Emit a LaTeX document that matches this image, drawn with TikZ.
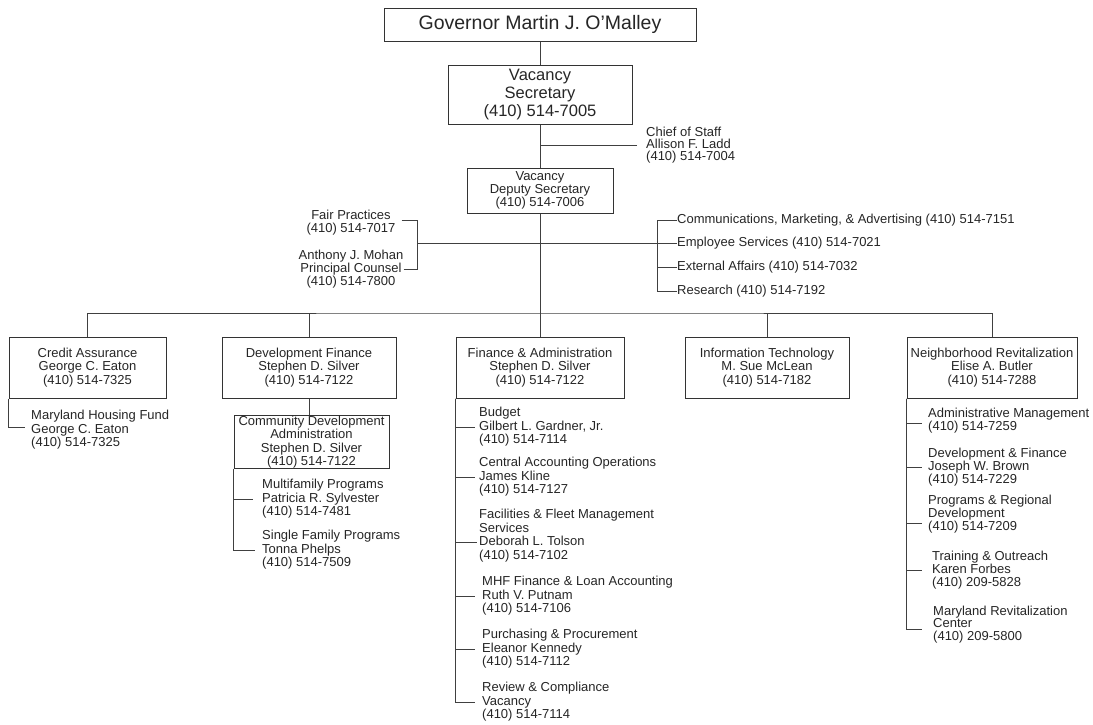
\documentclass[tikz,border=0pt]{standalone}
\usepackage{fontspec}
\setmainfont{Liberation Sans}
\begin{document}
\begin{tikzpicture}[x=1pt,y=-1pt,
  ln/.style={draw=black!75, line width=0.9pt},
  box/.style={draw=black!80, line width=1pt, inner sep=0pt, align=center, text=black!85, font=\fontsize{13}{13.5}\selectfont},
  lst/.style={inner sep=0pt, align=left, anchor=west, text=black!85, font=\fontsize{13}{13.5}\selectfont},
  ctr/.style={inner sep=0pt, align=center, text=black!85, font=\fontsize{13}{13}\selectfont},
]
\fill[white] (0,0) rectangle (1093,724);
\useasboundingbox (0,0) rectangle (1093,724);

% top chain
\node[box, minimum width=312, minimum height=33, font=\fontsize{19.5}{22}\selectfont] (gov) at (540,24.5) {Governor Martin J. O'Malley};
\node[box, minimum width=184, minimum height=59, font=\fontsize{16.5}{17.8}\selectfont] (sec) at (540,94.5) {Vacancy\\Secretary\\(410) 514-7005};
\node[box, minimum width=146, minimum height=45, font=\fontsize{13}{13}\selectfont] (dep) at (540,190.5) {Vacancy\\Deputy Secretary\\(410) 514-7006};
\node[lst, font=\fontsize{13}{12}\selectfont] (cos) at (646,145) {Chief of Staff\\Allison F. Ladd\\(410) 514-7004};

\draw[ln] (gov.south) -- (sec.north);
\draw[ln] (sec.south) -- (dep.north);
\draw[ln] ([xshift=-9pt]cos.west) -- (cos.west -| sec.south);

% staff offices
\node[ctr] (fp) at (351,222.5) {Fair Practices\\(410) 514-7017};
\node[ctr] (pc) at (351,269) {Anthony J. Mohan\\Principal Counsel\\(410) 514-7800};
\node[lst] (comm) at (677,220) {Communications, Marketing, \& Advertising (410) 514-7151};
\node[lst] (emp) at (677,243) {Employee Services (410) 514-7021};
\node[lst] (ext) at (677,267) {External Affairs (410) 514-7032};
\node[lst] (res) at (677,291) {Research (410) 514-7192};

\coordinate (lb) at (417,243);
\coordinate (rb) at (657,243);
\draw[ln] ([xshift=6pt,yshift=2pt]fp.east) -| (lb);
\draw[ln] (pc.east) -| (lb);
\draw[ln] (lb) -- (rb);
\draw[ln] (comm.west) -| (rb);
\draw[ln] (res.west) -| (rb);
\draw[ln] (emp.west) -- (rb);
\draw[ln] (ext.west) -- (ext.west -| rb);

% level of divisions
\coordinate (lvl) at (540,313);
\draw[ln] (dep.south) -- (lvl);

\node[box, minimum width=157, minimum height=61] (ca) at (87.5,367.5) {Credit Assurance\\George C. Eaton\\(410) 514-7325};
\node[box, minimum width=174, minimum height=61] (df) at (309,367.5) {Development Finance\\Stephen D. Silver\\(410) 514-7122};
\node[box, minimum width=168, minimum height=61] (fa) at (540,367.5) {Finance \& Administration\\Stephen D. Silver\\(410) 514-7122};
\node[box, minimum width=164, minimum height=61] (it) at (767,367.5) {Information Technology\\M. Sue McLean\\(410) 514-7182};
\node[box, minimum width=170, minimum height=61] (nr) at (992,367.5) {Neighborhood Revitalization\\Elise A. Butler\\(410) 514-7288};

\draw[ln] (ca.north) |- (lvl) -| (nr.north);
\draw[ln] (df.north) -- (df.north |- lvl);
\draw[ln] (fa.north) -- (lvl);
\draw[ln] (it.north) -- (it.north |- lvl);

% credit assurance
\node[lst] (mhf) at (31,430) {Maryland Housing Fund\\George C. Eaton\\(410) 514-7325};
\draw[ln] (ca.south west) |- ([xshift=-6pt,yshift=3pt]mhf.west);

% development finance
\node[box, minimum width=155, minimum height=52] (cda) at (311.5,442) {Community Development\\Administration\\Stephen D. Silver\\(410) 514-7122};
\draw[ln] (df.south) -- (df.south |- cda.north);
\node[lst] (mf) at (262,499) {Multifamily Programs\\Patricia R. Sylvester\\(410) 514-7481};
\node[lst] (sf) at (262,550) {Single Family Programs\\Tonna Phelps\\(410) 514-7509};
\draw[ln] (cda.south west) |- ([xshift=-9pt]mf.west);
\draw[ln] (cda.south west) |- ([xshift=-7pt]sf.west);

% finance & administration
\node[lst] (bud) at (479,427) {Budget\\Gilbert L. Gardner, Jr.\\(410) 514-7114};
\node[lst] (cao) at (479,477) {Central Accounting Operations\\James Kline\\(410) 514-7127};
\node[lst] (ffm) at (479,535.5) {Facilities \& Fleet Management\\Services\\Deborah L. Tolson\\(410) 514-7102};
\node[lst] (mhfa) at (482,596) {MHF Finance \& Loan Accounting\\Ruth V. Putnam\\(410) 514-7106};
\node[lst] (pur) at (482,649) {Purchasing \& Procurement\\Eleanor Kennedy\\(410) 514-7112};
\node[lst] (rev) at (482,702) {Review \& Compliance\\Vacancy\\(410) 514-7114};
\draw[ln] (fa.south west) |- ([xshift=-4pt]bud.west);
\draw[ln] (fa.south west) |- ([xshift=-4pt]cao.west);
\draw[ln] (fa.south west) |- ([xshift=-2pt,yshift=-6.5pt]ffm.west);
\draw[ln] (fa.south west) |- ([xshift=-7pt]mhfa.west);
\draw[ln] (fa.south west) |- ([xshift=-7pt]pur.west);
\draw[ln] (fa.south west) |- ([xshift=-7pt]rev.west);

% neighborhood revitalization
\node[lst] (adm) at (928,420.5) {Administrative Management\\(410) 514-7259};
\node[lst, font=\fontsize{13}{13}\selectfont] (dfn) at (928,467) {Development \& Finance\\Joseph W. Brown\\(410) 514-7229};
\node[lst, font=\fontsize{13}{13}\selectfont] (prd) at (928,514.5) {Programs \& Regional\\Development\\(410) 514-7209};
\node[lst, font=\fontsize{13}{13}\selectfont] (trn) at (932,570) {Training \& Outreach\\Karen Forbes\\(410) 209-5828};
\node[lst, font=\fontsize{13}{12.5}\selectfont] (mrc) at (933,624.5) {Maryland Revitalization\\Center\\(410) 209-5800};
\draw[ln] (nr.south west) |- ([xshift=-6pt,yshift=-2.5pt]adm.west);
\draw[ln] (nr.south west) |- ([xshift=-6pt]dfn.west);
\draw[ln] (nr.south west) |- ([xshift=-6pt,yshift=-8.5pt]prd.west);
\draw[ln] (nr.south west) |- ([xshift=-10pt]trn.west);
\draw[ln] (nr.south west) |- ([xshift=-11pt,yshift=-4.5pt]mrc.west);
\end{tikzpicture}
\end{document}
